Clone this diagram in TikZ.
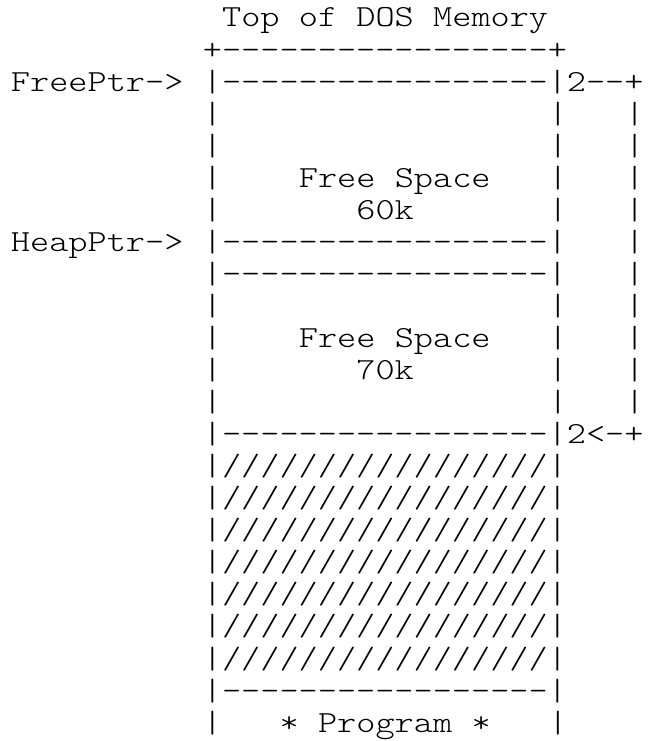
\documentclass[tikz,border=0pt]{standalone}
\usepackage{fontspec}
\newfontfamily\mono[Ligatures=TeXOff,FakeStretch=1.19]{Latin Modern Mono Light}
\begin{document}
\begin{tikzpicture}[x=0.75pt,y=-0.75pt,
  txt/.style={anchor=base west,inner sep=0pt,outer sep=0pt,text=black,
    font=\mono\fontsize{23}{23}\selectfont}]
\useasboundingbox (0,0) rectangle (652,741);
\def\xo{11.0}\def\cw{19.19}\def\yo{27}\def\lh{32.05}
\newcommand\cellat[3]{\node[txt] (n#1x#2) at ({\xo+#2*\cw},{\yo+#1*\lh}) {#3};}
% title and top edge
\cellat{0}{11}{Top}\cellat{0}{15}{of}\cellat{0}{18}{DOS}\cellat{0}{22}{Memory}
\cellat{1}{10}{+-----------------+}
% pointer rows
\cellat{2}{0}{FreePtr->}
\cellat{2}{10}{|-----------------|2--+}
\cellat{7}{0}{HeapPtr->}
\cellat{7}{10}{|-----------------|}
\cellat{8}{10}{|-----------------|}
\cellat{13}{10}{|-----------------|2<-+}
% free space labels
\cellat{5}{15}{Free}\cellat{5}{20}{Space}
\cellat{6}{18}{60k}
\cellat{10}{15}{Free}\cellat{10}{20}{Space}
\cellat{11}{18}{70k}
% hatched area
\foreach \r in {14,...,20}{\cellat{\r}{10}{|/////////////////|}}
\cellat{21}{10}{|-----------------|}
\cellat{22}{10}{|}
\cellat{22}{14}{*}\cellat{22}{16}{Program}\cellat{22}{24}{*}
\cellat{22}{28}{|}
% plain side bars
\foreach \r in {3,4,5,6,9,10,11,12}{\cellat{\r}{10}{|}\cellat{\r}{28}{|}}
% right bracket
\foreach \r in {3,...,12}{\cellat{\r}{32}{|}}
\end{tikzpicture}
\end{document}
